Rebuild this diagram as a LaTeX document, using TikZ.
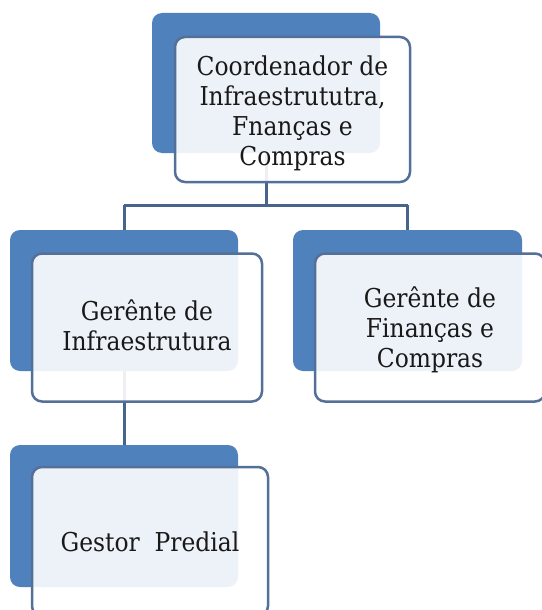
\documentclass[tikz,border=0pt]{standalone}
\usepackage{fontspec}
\setmainfont{DejaVu Serif Condensed}
\definecolor{backblue}{RGB}{79,129,189}
\definecolor{edgecol}{RGB}{84,112,152}
\definecolor{conncol}{RGB}{72,100,140}
\definecolor{txtcol}{RGB}{25,25,25}
\newcommand{\lowertext}[2]{\raisebox{-#1}[\height][\depth]{\begin{tabular}{@{}c@{}}#2\end{tabular}}}
\tikzset{
  backbox/.style={draw=none, fill=backblue, rounded corners=10pt, inner sep=0pt},
  frontbox/.style={draw=edgecol, line width=2.5pt, fill=white, fill opacity=0.9, text opacity=1, draw opacity=1,
    rounded corners=10pt, inner sep=0pt, align=center, text=txtcol,
    font=\fontsize{26pt}{30pt}\selectfont},
  conn/.style={draw=conncol, line width=3pt}
}
\begin{document}
\begin{tikzpicture}[x=1pt,y=-1pt]
\useasboundingbox (0,0) rectangle (541,610);
% positions
\coordinate (bus) at (0,205);
\path (266,83) coordinate (topc) (124,300.5) coordinate (leftc)
      (407.5,300.5) coordinate (rightc) (124,516) coordinate (botc);
% connectors (behind the boxes)
\draw[conn] (topc) -- (topc |- bus);
\draw[conn] (leftc |- bus) -- (rightc |- bus);
\draw[conn] (leftc |- bus) -- (leftc);
\draw[conn] (rightc |- bus) -- (rightc);
\draw[conn] (leftc) -- (botc);
% back boxes
\node[backbox, minimum width=228pt, minimum height=140pt] (topback) at (topc) {};
\node[backbox, minimum width=228pt, minimum height=141pt] (leftback) at (leftc) {};
\node[backbox, minimum width=229pt, minimum height=141pt] (rightback) at (rightc) {};
\node[backbox, minimum width=228pt, minimum height=142pt] (botback) at (botc) {};
% front boxes
\node[frontbox, minimum width=235pt, minimum height=145pt] (top) at (292.5,109.5)
  {\lowertext{5pt}{Coordenador de\\Infraestrututra,\\Fnanças e\\Compras}};
\node[frontbox, minimum width=230pt, minimum height=148pt] (left) at (147,327.5)
  {\lowertext{2pt}{Gerênte de\\Infraestrutura}};
\node[frontbox, minimum width=230pt, minimum height=148pt] (right) at (430,327.5)
  {\lowertext{4pt}{Gerênte de\\Finanças e\\Compras}};
\node[frontbox, minimum width=236pt, minimum height=149pt] (bottom) at (150,541.5)
  {Gestor\ \ Predial};
\end{tikzpicture}
\end{document}
